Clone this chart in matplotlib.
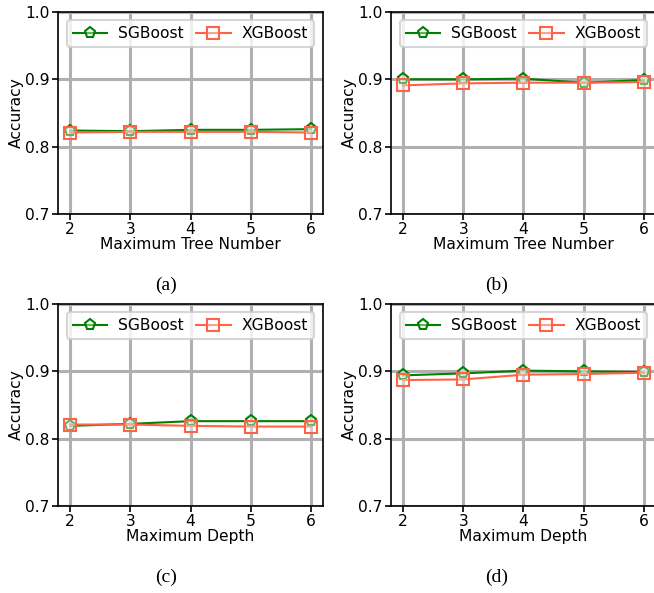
import matplotlib
matplotlib.use("Agg")
import matplotlib.pyplot as plt
from matplotlib import font_manager

x_vals = [2, 3, 4, 5, 6]
tree_sg_a = [0.824, 0.823, 0.825, 0.825, 0.826]
tree_xg_a = [0.821, 0.822, 0.822, 0.822, 0.821]
tree_sg_b = [0.900, 0.900, 0.901, 0.895, 0.899]
tree_xg_b = [0.891, 0.894, 0.895, 0.895, 0.896]
depth_sg_c = [0.819, 0.822, 0.826, 0.826, 0.826]
depth_xg_c = [0.821, 0.821, 0.819, 0.818, 0.818]
depth_sg_d = [0.894, 0.897, 0.901, 0.900, 0.899]
depth_xg_d = [0.887, 0.888, 0.895, 0.896, 0.898]

xlabels = ["Maximum Tree Number", "Maximum Tree Number", "Maximum Depth", "Maximum Depth"]
captions = ["(a)", "(b)", "(c)", "(d)"]
yticks = [0.7, 0.8, 0.9, 1.0]

series = [(tree_sg_a, tree_xg_a), (tree_sg_b, tree_xg_b),
          (depth_sg_c, depth_xg_c), (depth_sg_d, depth_xg_d)]

plt.rcParams['font.family'] = 'sans-serif'
plt.rcParams['font.sans-serif'] = ['DejaVu Sans']
fig = plt.figure(figsize=(6.54, 5.93), dpi=100)

W, H = 654, 593
boxes = [(58, 12, 265, 202), (391, 12, 265, 202), (58, 304, 265, 202), (391, 304, 265, 202)]
cap_pos = [(166, 285), (497, 285), (166, 577), (497, 577)]

fs = 11.2
dv = font_manager.FontProperties(family='DejaVu Sans', size=fs)
for i, (bx, (sg, xg)) in enumerate(zip(boxes, series)):
    l, t, w, h = bx
    ax = fig.add_axes([l / W, 1 - (t + h) / H, w / W, h / H])
    ax.grid(True, color='#b0b0b0', linewidth=2.2, zorder=0)
    ax.set_axisbelow(True)
    ax.plot(x_vals, sg, color='green', marker='p', markersize=8, markerfacecolor=(1, 1, 1, 0.4),
            markeredgecolor='green', markeredgewidth=1.5, linewidth=1.5, label='SGBoost', zorder=3)
    ax.plot(x_vals, xg, color='tomato', marker='s', markersize=9, markerfacecolor=(1, 1, 1, 0.4),
            markeredgecolor='tomato', markeredgewidth=1.5, linewidth=1.5, label='XGBoost', zorder=3)
    ax.set_ylim(0.7, 1.0)
    ax.set_xlim(1.8, 6.2)
    ax.set_yticks(yticks)
    ax.set_yticklabels([f"{v:.1f}" for v in yticks], fontproperties=dv)
    ax.set_xticks(x_vals)
    ax.set_xticklabels([str(v) for v in x_vals], fontproperties=dv)
    ax.tick_params(length=4.5, width=1.2, pad=1.5)
    for s in ax.spines.values():
        s.set_linewidth(1.2)
    ax.set_xlabel(xlabels[i], fontproperties=dv, labelpad=0)
    ax.set_ylabel("Accuracy", fontproperties=dv, labelpad=1)
    leg = ax.legend(loc='upper center', ncol=2, prop=dv, frameon=True,
                    handlelength=2.2, handletextpad=0.7, columnspacing=0.8,
                    borderaxespad=0.5)
    leg.get_frame().set_edgecolor('#cccccc')
    leg.get_frame().set_linewidth(1.5)
    cx, cy = cap_pos[i]
    fig.text(cx / W, 1 - cy / H, captions[i], ha='center', va='center',
             fontsize=14, family=['Liberation Serif'])

fig.savefig("out.png", dpi=100)
